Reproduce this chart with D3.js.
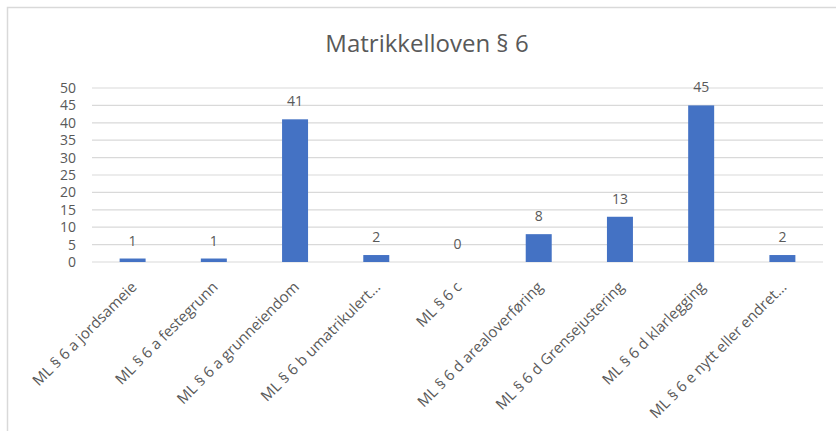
<!DOCTYPE html>
<html>
<head>
<meta charset="utf-8">
<script src="https://cdn.jsdelivr.net/npm/d3@7"></script>
<style>
  html, body { margin: 0; padding: 0; background: #fff; }
  svg { display: block; }
  text { font-family: "Open Sans", sans-serif; fill: #595959; }
</style>
</head>
<body>
<svg id="chart" width="836" height="431"></svg>
<script>
const categories = [
  "ML § 6 a jordsameie",
  "ML § 6 a festegrunn",
  "ML § 6 a grunneiendom",
  "ML § 6 b umatrikulert…",
  "ML § 6 c",
  "ML § 6 d arealoverføring",
  "ML § 6 d Grensejustering",
  "ML § 6 d klarlegging",
  "ML § 6 e nytt eller endret…"
];
const values = [1, 1, 41, 2, 0, 8, 13, 45, 2];
const yTicks = [0, 5, 10, 15, 20, 25, 30, 35, 40, 45, 50];
const title = "Matrikkelloven § 6";

const W = 836, H = 431;
const margin = { left: 92, right: 13, top: 88, bottom: 169 };
const svg = d3.select("#chart");

// chart frame
svg.append("rect")
  .attr("x", 7.5).attr("y", 7.5)
  .attr("width", W + 10).attr("height", H + 10)
  .attr("fill", "none").attr("stroke", "#d9d9d9").attr("stroke-width", 1.5);

svg.append("text")
  .attr("x", 427).attr("y", 52)
  .attr("text-anchor", "middle")
  .style("font-size", "24px")
  .text(title);

const x = d3.scaleBand()
  .domain(categories)
  .range([margin.left, W - margin.right])
  .paddingInner(0.68).paddingOuter(0.34);

const y = d3.scaleLinear()
  .domain([0, 50])
  .range([H - margin.bottom, margin.top]);

// horizontal gridlines
svg.append("g")
  .selectAll("line")
  .data(yTicks)
  .join("line")
  .attr("x1", margin.left).attr("x2", W - margin.right)
  .attr("y1", d => y(d)).attr("y2", d => y(d))
  .attr("stroke", "#d9d9d9").attr("stroke-width", 1.2);

// y axis labels
const yAxis = d3.axisLeft(y).tickValues(yTicks).tickSize(0).tickPadding(16);
const gy = svg.append("g").attr("transform", `translate(${margin.left},0)`).call(yAxis);
gy.select(".domain").remove();
gy.selectAll("text")
  .style("font-size", "14px")
  .style("font-family", "'Open Sans', sans-serif")
  .attr("fill", "#595959");

// bars
svg.append("g")
  .selectAll("rect")
  .data(values)
  .join("rect")
  .attr("x", (d, i) => x(categories[i]))
  .attr("width", x.bandwidth())
  .attr("y", d => y(d))
  .attr("height", d => y(0) - y(d))
  .attr("fill", "#4472c4");

// value labels
svg.append("g")
  .selectAll("text")
  .data(values)
  .join("text")
  .attr("x", (d, i) => x(categories[i]) + x.bandwidth() / 2)
  .attr("y", d => y(d) - 13)
  .attr("text-anchor", "middle")
  .style("font-size", "14px")
  .text(d => d);

// category axis, rotated labels
const xAxis = d3.axisBottom(x).tickSize(0).tickPadding(0);
const gx = svg.append("g").attr("transform", `translate(0,${y(0)})`).call(xAxis);
gx.select(".domain").remove();
gx.selectAll("text")
  .style("font-size", "15px")
  .style("font-family", "'Open Sans', sans-serif")
  .attr("fill", "#595959")
  .attr("text-anchor", "end")
  .attr("dy", null)
  .attr("y", 0)
  .attr("transform", "translate(5,26) rotate(-45)");
</script>
</body>
</html>
